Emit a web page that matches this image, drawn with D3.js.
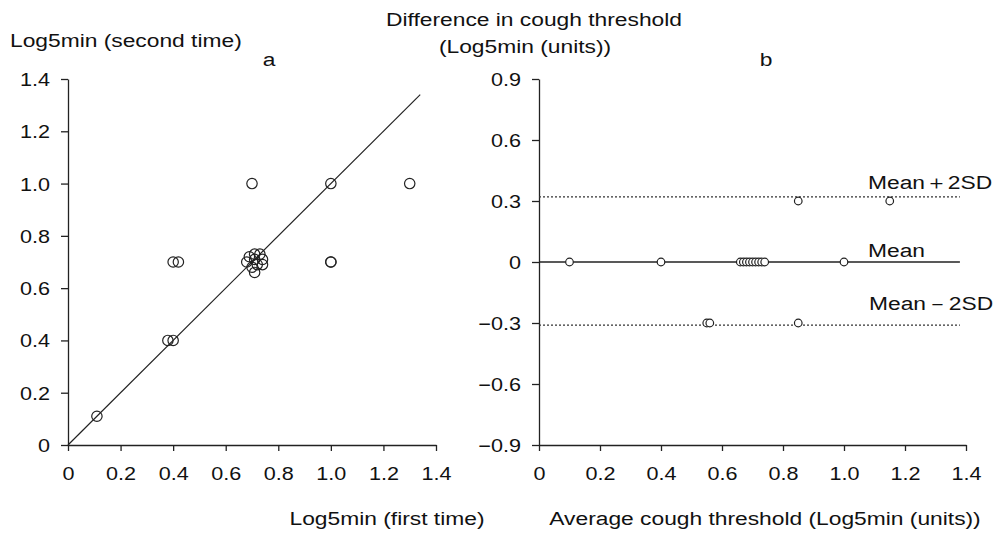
<!DOCTYPE html>
<html><head><meta charset="utf-8">
<script src="https://cdn.jsdelivr.net/npm/d3@7"></script>
<style>body{margin:0;background:#fff}svg{display:block}text{font-family:"Liberation Sans",Arial,sans-serif;fill:#111}</style>
</head><body>
<svg id="c" width="993" height="534"></svg>
<script>
// Panel a: first vs second measurement (Log5min)
const firstTime  = [0.11,0.38,0.40,0.40,0.42,0.70,1.00,1.30,1.00,1.00,0.69,0.71,0.73,0.74,0.74,0.68,0.70,0.72,0.71,0.71];
const secondTime = [0.11,0.40,0.40,0.70,0.70,1.00,1.00,1.00,0.70,0.70,0.72,0.73,0.73,0.71,0.69,0.70,0.68,0.69,0.66,0.71];
const identityLine = [0, 1.34];
// Panel b: Bland-Altman
const averageThreshold = [0.10,0.40,0.66,0.67,0.68,0.69,0.70,0.71,0.72,0.73,0.74,1.00,0.85,1.15,0.55,0.56,0.85];
const differenceValues = [0,0,0,0,0,0,0,0,0,0,0,0,0.30,0.30,-0.30,-0.30,-0.30];
const meanDiff = 0, upperLimit = 0.32, lowerLimit = -0.31, limitEnd = 1.38;
const ticksA = [0,0.2,0.4,0.6,0.8,1.0,1.2,1.4];
const ticksBy = [0.9,0.6,0.3,0,-0.3,-0.6,-0.9];
const ticksBx = [0,0.2,0.4,0.6,0.8,1.0,1.2,1.4];
const fmt = v => v===0 ? "0" : (v<0 ? "\u2212" + Math.abs(v).toFixed(1) : v.toFixed(1));

const SX = 1.2;
const svg = d3.select("#c");
const ink = "#222";

function label(x, y, str, size, anchor) {
  svg.append("text").attr("transform", `translate(${x},${y}) scale(${SX},1)`)
    .attr("font-size", size).attr("text-anchor", anchor || "start").text(str);
}
function styleAxis(g, isLeft) {
  g.select(".domain").attr("stroke", ink).attr("stroke-width", 1.3);
  g.selectAll(".tick line").attr("stroke", ink).attr("stroke-width", 1.3);
  g.selectAll(".tick text").attr("font-size", 18).attr("fill", "#111")
    .attr("font-family", '"Liberation Sans",Arial,sans-serif')
    .attr("transform", `scale(${SX},1)`);
  if (isLeft) g.selectAll(".tick text").attr("x", -18 / SX).attr("dy", "0.36em");
  else g.selectAll(".tick text").attr("y", 0).attr("dy", "35px");
}

// ---------- Panel a ----------
const xa = d3.scaleLinear().domain([0, 1.4]).range([68, 436]);
const ya = d3.scaleLinear().domain([0, 1.4]).range([445, 79]);
const gya = svg.append("g").attr("transform", `translate(${xa(0)},0)`)
  .call(d3.axisLeft(ya).tickValues(ticksA).tickFormat(fmt).tickSize(7).tickSizeOuter(0));
styleAxis(gya, true);
const gxa = svg.append("g").attr("transform", `translate(0,${ya(0)})`)
  .call(d3.axisBottom(xa).tickValues(ticksA).tickFormat(fmt).tickSize(6).tickSizeOuter(0));
styleAxis(gxa, false);
svg.append("line").attr("x1", xa(identityLine[0])).attr("y1", ya(identityLine[0]))
  .attr("x2", xa(identityLine[1])).attr("y2", ya(identityLine[1]))
  .attr("stroke", ink).attr("stroke-width", 1.2);
svg.append("g").selectAll("circle").data(firstTime).join("circle")
  .attr("cx", d => xa(d)).attr("cy", (d, i) => ya(secondTime[i])).attr("r", 5.2)
  .attr("fill", "none").attr("stroke", ink).attr("stroke-width", 1.2);

label(10, 47, "Log5min (second time)", 19);
label(269, 66, "a", 19, "middle");
label(387, 525, "Log5min (first time)", 19, "middle");

// ---------- Panel b ----------
const xb = d3.scaleLinear().domain([0, 1.4]).range([539, 966]);
const yb = d3.scaleLinear().domain([-0.9, 0.9]).range([445, 79]);
const gyb = svg.append("g").attr("transform", `translate(${xb(0)},0)`)
  .call(d3.axisLeft(yb).tickValues(ticksBy).tickFormat(fmt).tickSize(7).tickSizeOuter(0));
styleAxis(gyb, true);
const gxb = svg.append("g").attr("transform", `translate(0,${yb(-0.9)})`)
  .call(d3.axisBottom(xb).tickValues(ticksBx).tickFormat(fmt).tickSize(6).tickSizeOuter(0));
styleAxis(gxb, false);

svg.append("line").attr("x1", xb(0)).attr("x2", xb(limitEnd)).attr("y1", yb(meanDiff)).attr("y2", yb(meanDiff))
  .attr("stroke", ink).attr("stroke-width", 1.3);
[upperLimit, lowerLimit].forEach(v => {
  svg.append("line").attr("x1", xb(0)).attr("x2", xb(limitEnd)).attr("y1", yb(v)).attr("y2", yb(v))
    .attr("stroke", "#333").attr("stroke-width", 1.2).attr("stroke-dasharray", "2,2");
});
svg.append("g").selectAll("circle").data(averageThreshold).join("circle")
  .attr("cx", d => xb(d)).attr("cy", (d, i) => yb(differenceValues[i])).attr("r", 3.8)
  .attr("fill", "#fff").attr("stroke", ink).attr("stroke-width", 1.2);

label(868, yb(upperLimit) - 8, "Mean\uFF0B2SD", 19);
label(868, 257, "Mean", 19);
label(869, 310, "Mean\uFF0D2SD", 19);
label(534, 26, "Difference in cough threshold", 19, "middle");
label(525, 53, "(Log5min (units))", 19, "middle");
label(766, 66, "b", 19, "middle");
label(765, 525, "Average cough threshold (Log5min (units))", 19, "middle");
</script>
</body></html>
